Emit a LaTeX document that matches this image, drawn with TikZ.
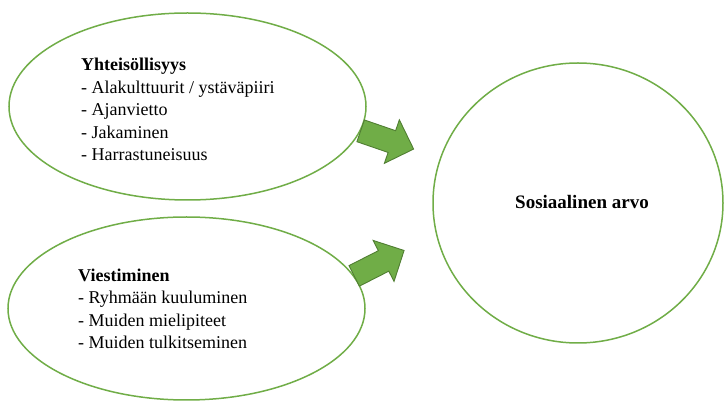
\documentclass[tikz,border=0pt]{standalone}
\usepackage{fontspec}
\setmainfont{Liberation Serif}
\usetikzlibrary{shapes.geometric}

\definecolor{leafgreen}{HTML}{70AD47}
\definecolor{leafdark}{HTML}{507E32}

\tikzset{
  bubble/.style={ellipse, draw=leafgreen, line width=1.5pt, inner sep=0pt, fill=white},
  blocktext/.style={inner sep=0pt, align=left, anchor=north west,
    font=\fontsize{18}{22.5}\selectfont},
  arrowfill/.style={fill=leafgreen, draw=leafdark, line width=0.9pt, line join=miter},
  blockarrow/.pic={
    \draw[arrowfill] (0,-11.5) -- (33,-11.5) -- (33,-23) -- (56,0)
      -- (33,23) -- (33,11.5) -- (0,11.5) -- cycle;
  }
}

\begin{document}
\begin{tikzpicture}[x=1pt, y=-1pt]
  \useasboundingbox (0,0) rectangle (724,403);

  % the two source groups and the target value
  \node[bubble, minimum width=357pt, minimum height=187pt] (yht) at (187.5,106.5) {};
  \node[bubble, minimum width=357pt, minimum height=183pt] (vie) at (186.5,308.5) {};
  \node[bubble, minimum width=290pt, minimum height=280pt] (arvo) at (578,203) {};

  % texts inside the bubbles
  \node[blocktext] (yhttext) at (81,58)
    {\textbf{Yhteisöllisyys}\\- Alakulttuurit / ystäväpiiri\\- Ajanvietto\\- Jakaminen\\- Harrastuneisuus};
  \node[blocktext] (vietext) at (78,268.5)
    {\textbf{Viestiminen}\\- Ryhmään kuuluminen\\- Muiden mielipiteet\\- Muiden tulkitseminen};
  \node[font=\fontsize{19}{23}\selectfont\bfseries, inner sep=0pt] (arvotext) at (582,202) {Sosiaalinen arvo};

  % block arrows leaving the source bubbles towards the target
  \coordinate (yhtout) at (yht.-8.3);
  \coordinate (vieout) at (vie.11);
  \path (yhtout) pic[rotate=-19] {blockarrow};
  \path (vieout) pic[rotate=27] {blockarrow};
\end{tikzpicture}
\end{document}
